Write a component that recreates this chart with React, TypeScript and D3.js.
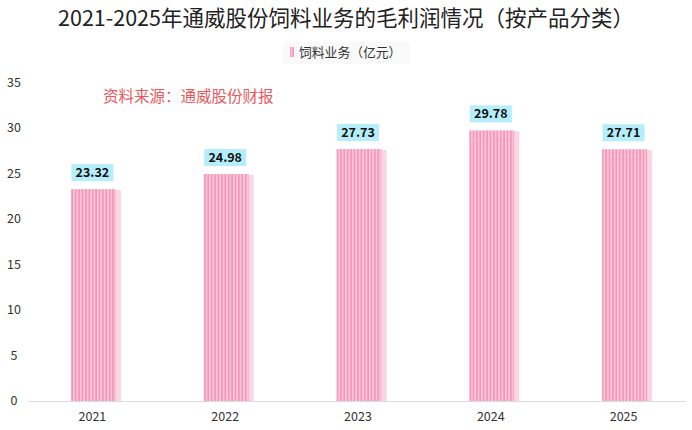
import * as d3 from 'd3';
import React, { useEffect, useRef } from 'react';

const years = ['2021', '2022', '2023', '2024', '2025'];
const profit = [23.32, 24.98, 27.73, 29.78, 27.71];
const yTicks = [0, 5, 10, 15, 20, 25, 30, 35];

const W = 692;
const H = 430;
const margin = { top: 83, right: 2, bottom: 29, left: 26 };
const font = '"Noto Sans CJK SC", "Noto Sans", sans-serif';

export default function App() {
	const ref = useRef<SVGSVGElement>(null);

	useEffect(() => {
		document.body.style.margin = '0';
		const svg = d3.select(ref.current as SVGSVGElement);
		svg.selectAll('*').remove();

		const x = d3
			.scaleBand()
			.domain(years)
			.range([margin.left, W - margin.right])
			.paddingInner(0)
			.paddingOuter(0);
		const y = d3
			.scaleLinear()
			.domain([0, 35])
			.range([H - margin.bottom, margin.top]);

		const defs = svg.append('defs');
		const pat = defs
			.append('pattern')
			.attr('id', 'stripe')
			.attr('patternUnits', 'userSpaceOnUse')
			.attr('width', 3.4)
			.attr('height', 10);
		pat.append('rect').attr('width', 3.4).attr('height', 10).attr('fill', '#f9c8da');
		pat.append('rect').attr('width', 1.8).attr('height', 10).attr('fill', '#f498b8');

		svg.append('text')
			.attr('x', W / 2)
			.attr('y', 26)
			.attr('text-anchor', 'middle')
			.attr('font-family', font)
			.attr('font-size', 21.5)
			.attr('fill', '#222')
			.text('2021-2025年通威股份饲料业务的毛利润情况（按产品分类）');

		// legend
		const lg = svg.append('g');
		lg.append('rect').attr('x', 283).attr('y', 42).attr('width', 127).attr('height', 22).attr('fill', '#f9f9fa');
		lg.append('rect').attr('x', 290).attr('y', 47).attr('width', 4).attr('height', 10).attr('fill', 'url(#stripe)');
		lg.append('text')
			.attr('x', 299)
			.attr('y', 57)
			.attr('font-family', font)
			.attr('font-size', 12.8)
			.attr('fill', '#333')
			.text('饲料业务（亿元）');

		svg.append('text')
			.attr('x', 103)
			.attr('y', 102)
			.attr('font-family', font)
			.attr('font-size', 15.5)
			.attr('fill', '#e8595c')
			.text('资料来源：通威股份财报');

		// y axis labels
		svg.append('g')
			.selectAll('text')
			.data(yTicks)
			.join('text')
			.attr('x', 14)
			.attr('y', d => y(d) + 4)
			.attr('text-anchor', 'middle')
			.attr('font-family', font)
			.attr('font-size', 12.5)
			.attr('fill', '#333')
			.text(d => d);

		const bw = 45;
		const cx = (d: string) => (x(d) as number) + x.bandwidth() / 2 + 1;

		const bars = svg.append('g');
		bars.selectAll('rect.shadow')
			.data(years)
			.join('rect')
			.attr('class', 'shadow')
			.attr('x', d => cx(d) + bw / 2)
			.attr('y', (d, i) => y(profit[i]) + 1)
			.attr('width', 5)
			.attr('height', (d, i) => y(0) - y(profit[i]) - 1)
			.attr('fill', '#f9d6e1');
		bars.selectAll('rect.bar')
			.data(years)
			.join('rect')
			.attr('class', 'bar')
			.attr('x', d => cx(d) - bw / 2)
			.attr('y', (d, i) => y(profit[i]))
			.attr('width', bw)
			.attr('height', (d, i) => y(0) - y(profit[i]))
			.attr('fill', 'url(#stripe)');

		// axis line
		svg.append('line')
			.attr('x1', 28)
			.attr('x2', 686)
			.attr('y1', y(0) + 0.5)
			.attr('y2', y(0) + 0.5)
			.attr('stroke', '#dcdcdc');

		svg.append('g')
			.selectAll('text')
			.data(years)
			.join('text')
			.attr('x', d => (x(d) as number) + x.bandwidth() / 2)
			.attr('y', y(0) + 20)
			.attr('text-anchor', 'middle')
			.attr('font-family', font)
			.attr('font-size', 12.5)
			.attr('fill', '#333')
			.text(d => d);

		// value labels
		const lab = svg.append('g');
		lab.selectAll('rect')
			.data(years)
			.join('rect')
			.attr('x', d => cx(d) - 22)
			.attr('y', (d, i) => y(profit[i]) - 25)
			.attr('width', 42)
			.attr('height', 17)
			.attr('fill', '#b5eefa');
		lab.selectAll('text')
			.data(years)
			.join('text')
			.attr('x', d => cx(d) - 1)
			.attr('y', (d, i) => y(profit[i]) - 12)
			.attr('text-anchor', 'middle')
			.attr('font-family', font)
			.attr('font-size', 12.5)
			.attr('font-weight', 'bold')
			.attr('fill', '#111')
			.text((d, i) => profit[i].toFixed(2));
	}, []);

	return <svg ref={ref} width={W} height={H} style={{ display: 'block', background: '#fff' }} />;
}
